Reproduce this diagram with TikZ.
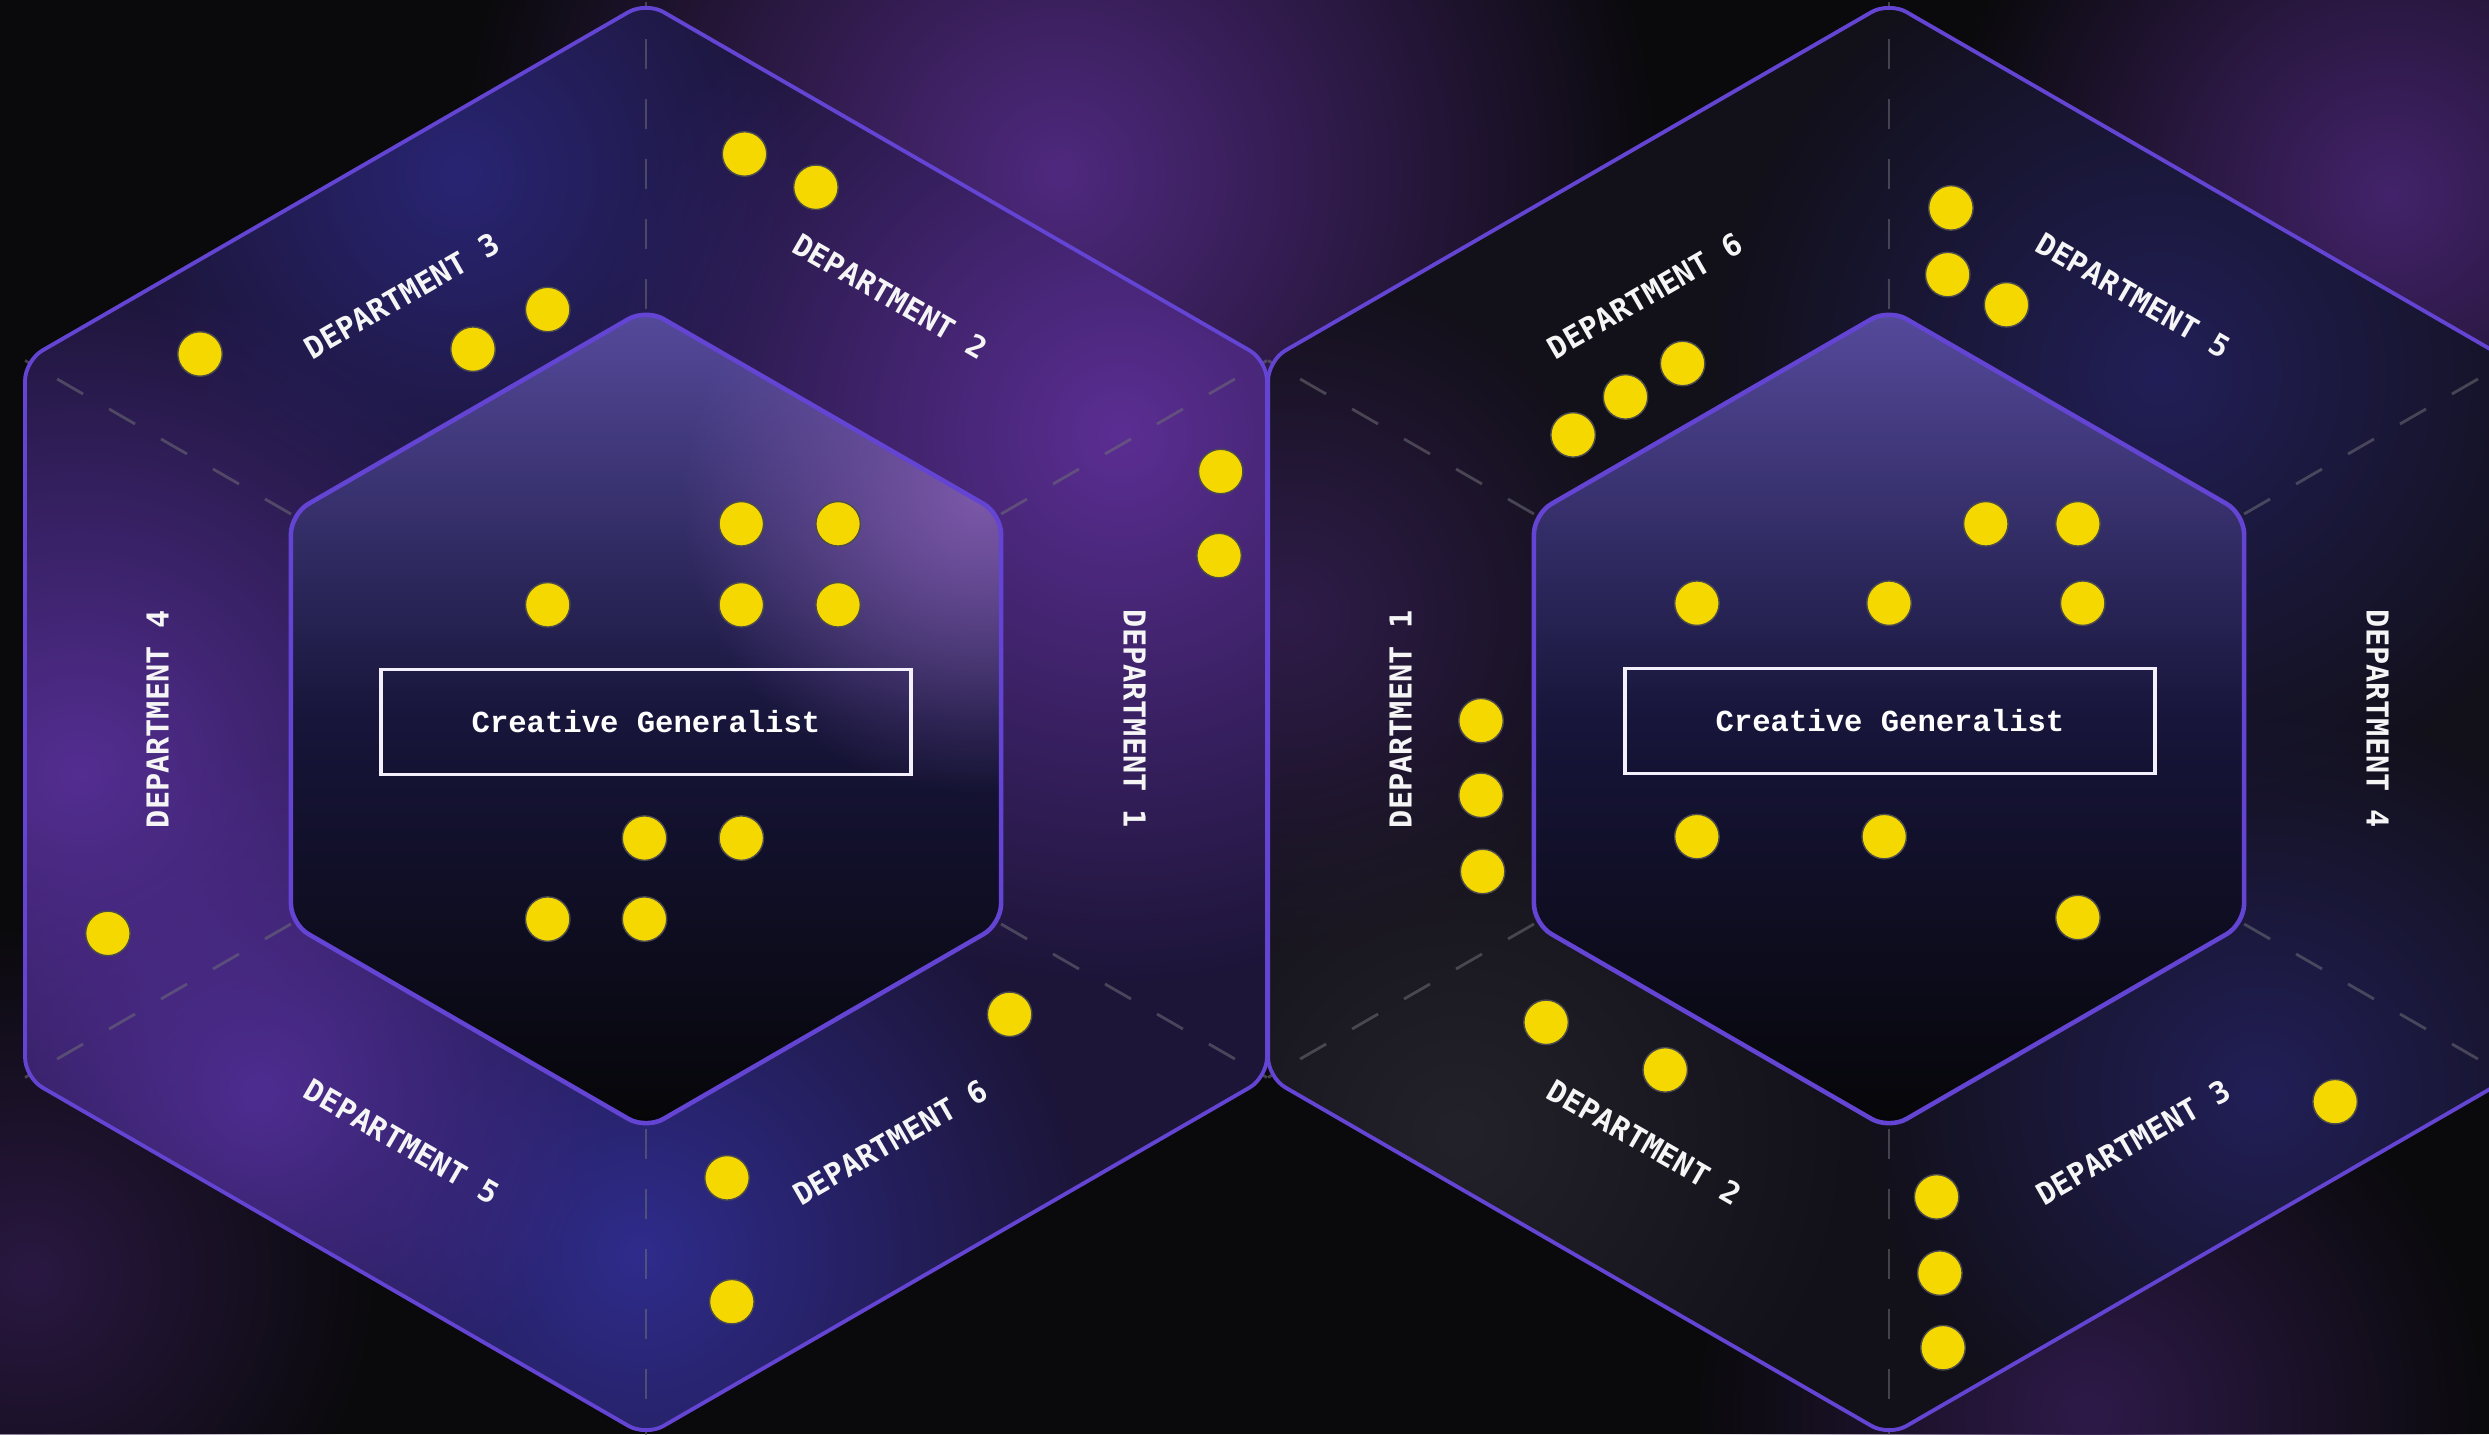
\documentclass[tikz,border=0pt]{standalone}
\usepackage{fontspec}
\newfontfamily\deptfont{DejaVu Sans Mono}
\newfontfamily\rolefont{Liberation Mono}
\usetikzlibrary{calc,fadings}

\definecolor{bgcol}{HTML}{0A0A0C}
\definecolor{ringL}{HTML}{1C1538}
\definecolor{ringR}{HTML}{121019}
\definecolor{glowpurple}{HTML}{5B2E93}
\definecolor{glowblue}{HTML}{2F2C8C}
\definecolor{edgecol}{HTML}{6444D2}
\definecolor{spokecol}{HTML}{6E6E76}
\definecolor{dotcol}{HTML}{F5D800}
\definecolor{innertop}{HTML}{554A9C}
\definecolor{innermid}{HTML}{17153A}
\definecolor{innerbot}{HTML}{060608}

\tikzfading[name=glowfade, inner color=transparent!0, outer color=transparent!100]

\begin{document}
\begin{tikzpicture}[
  dept/.style={text=white!92!gray, font=\deptfont\bfseries\fontsize{8.6}{10}\selectfont, inner sep=0pt},
  rolebox/.style={draw=white!92!edgecol, line width=1pt, minimum width=5.3cm, minimum height=1.05cm,
    text=white, font=\rolefont\bfseries\fontsize{8.7}{10}\selectfont},
  dot/.style={circle, fill=dotcol, draw=black!70, line width=0.4pt, minimum size=4.45mm, inner sep=0pt},
  spoke/.style={draw=spokecol, line width=0.8pt, dash pattern=on 3mm off 3mm, opacity=0.55},
  hexedge/.style={draw=edgecol, line width=1.1pt},
  hexpath/.style 2 args={rounded corners=2mm,
    insert path={(#1-#2-0) -- (#1-#2-1) -- (#1-#2-2) -- (#1-#2-3) -- (#1-#2-4) -- (#1-#2-5) -- cycle}},
  glow/.style={fill=#1, path fading=glowfade}
]

\useasboundingbox (0,0) rectangle (24.89,14.34);
\clip (0,0) rectangle (24.89,14.34);
\fill[bgcol] (0,0) rectangle (24.89,14.34);

\coordinate (L) at (6.46,7.15);
\coordinate (R) at (18.89,7.15);
\foreach \c in {L,R}
  \foreach \i in {0,...,5} {
    \coordinate (\c-out-\i) at ($(\c)+({90+60*\i}:7.17)$);
    \coordinate (\c-in-\i) at ($(\c)+({90+60*\i}:4.1)$);
  }

% haze
\fill[glow=glowpurple!85!bgcol] (10.6,12.6) circle (6);
\fill[glow=glowpurple!70!bgcol] (23.9,12.4) circle (4.5);
\fill[glow=glowpurple!45!bgcol] (20.9,0.2) circle (4);
\fill[glow=glowpurple!40!bgcol] (0.3,1.6) circle (3.5);

% outer rings
\fill[ringL, hexpath={L}{out}];
\begin{scope}
  \clip[hexpath={L}{out}];
  \fill[glow=glowpurple] (11.2,10.0) circle (5.5);
  \fill[glow=glowpurple!85!glowblue] (0.8,6.6) circle (5);
  \fill[glow=glowblue] (6.4,1.8) circle (4.5);
  \fill[glow=glowblue!70!ringL] (4.6,12.6) circle (3.5);
  \fill[glow=glowpurple!70!glowblue] (2.6,3.4) circle (3.5);
\end{scope}
\fill[ringR, hexpath={R}{out}];
\begin{scope}
  \clip[hexpath={R}{out}];
  \fill[glow=glowblue!55!ringR] (21.6,10.6) circle (4.5);
  \fill[glow=glowblue!55!ringR] (22.6,3.4) circle (4);
  \fill[glow=glowpurple!40!ringR] (12.9,8.2) circle (3.5);
  \fill[glow=white!7!ringR] (14.6,3.0) circle (4);
\end{scope}

% inner hexagons
\foreach \c in {L,R}
  \shade[top color=innertop, bottom color=innerbot, middle color=innermid, hexpath={\c}{in}];
\begin{scope}
  \clip[hexpath={L}{in}];
  \fill[glow=glowpurple!80!white] (9.8,9.4) circle (3);
\end{scope}

\foreach \c in {L,R}
  \foreach \i in {0,...,5}
    \draw[spoke] (\c-in-\i) -- (\c-out-\i);

\foreach \c in {L,R} {
  \draw[hexedge, hexpath={\c}{out}];
  \draw[hexedge, line width=1.3pt, hexpath={\c}{in}];
}

\foreach \n/\a/\r in {1/0/-90, 2/60/-30, 3/120/30, 4/180/90, 5/240/-30, 6/300/30}
  \node[dept, rotate=\r] (L-dep\n) at ($(L)+(\a:4.885)$) {DEPARTMENT \n};
\foreach \n/\a/\r in {4/0/-90, 5/60/-30, 6/120/30, 1/180/90, 2/240/-30, 3/300/30}
  \node[dept, rotate=\r] (R-dep\n) at ($(R)+(\a:4.885)$) {DEPARTMENT \n};

\node[rolebox] (L-role) at ($(L)+(0,-0.03)$) {Creative Generalist};
\node[rolebox] (R-role) at ($(R)+(0.01,-0.02)$) {Creative Generalist};

\foreach \x/\y [count=\k] in {7.445/12.80, 8.159/12.467, 2.0/10.80, 4.73/10.848, 5.477/11.245,
    12.207/9.625, 12.191/8.784, 1.079/5.006, 10.096/4.197, 7.27/2.562, 7.318/1.323,
    7.413/9.102, 8.381/9.102, 5.477/8.292, 7.413/8.292, 8.381/8.292,
    6.445/5.959, 7.413/5.959, 5.477/5.149, 6.445/5.149}
  \node[dot] (L-dot\k) at (\x,\y) {};
\foreach \x/\y [count=\k] in {19.509/12.261, 19.477/11.594, 20.065/11.292, 16.826/10.705, 16.255/10.371,
    15.731/9.991, 14.81/7.133, 14.81/6.387, 14.826/5.625, 15.461/4.117, 16.652/3.641,
    23.351/3.323, 19.366/2.371, 19.398/1.609, 19.43/0.863,
    19.858/9.102, 20.779/9.102, 16.969/8.308, 18.89/8.308, 20.827/8.308,
    16.969/5.974, 18.842/5.974, 20.779/5.165}
  \node[dot] (R-dot\k) at (\x,\y) {};

\end{tikzpicture}
\end{document}
